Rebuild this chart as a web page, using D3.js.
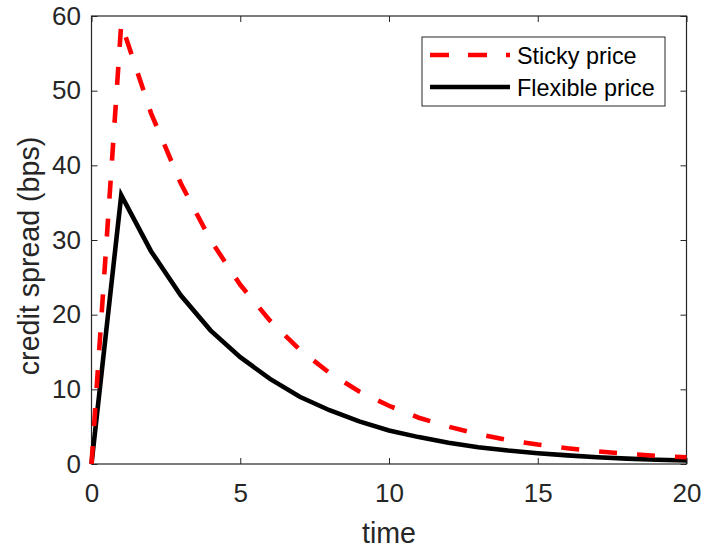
<!DOCTYPE html>
<html><head><meta charset="utf-8">
<script src="https://cdn.jsdelivr.net/npm/d3@7"></script>
<style>body{margin:0;background:#fff}svg{display:block}text{font-family:"Liberation Sans",Arial,sans-serif;fill:#262626}</style>
</head><body><svg id="c" width="703" height="548"></svg>
<script>
const time = [0,1,2,3,4,5,6,7,8,9,10,11,12,13,14,15,16,17,18,19,20];
const sticky = [0,59,47,37.6,30,24,19.2,15.3,12.2,9.7,7.8,6.2,5.0,4.0,3.2,2.6,2.1,1.7,1.35,1.1,0.9];
const flexible = [0,36,28.5,22.6,17.9,14.3,11.4,9.0,7.2,5.7,4.5,3.6,2.85,2.25,1.8,1.45,1.15,0.9,0.72,0.57,0.46];
const xTicks = [0,5,10,15,20];
const yTicks = [0,10,20,30,40,50,60];
const seriesNames = ["Sticky price","Flexible price"];

const svg = d3.select("#c");
const L=91.5, R=686.5, T=16, B=464;
const x = d3.scaleLinear().domain([0,20]).range([L,R]);
const y = d3.scaleLinear().domain([0,60]).range([B,T]);
const ax = "#262626";
const tickFont = "26px";

const gx = svg.append("g").attr("transform",`translate(0,${B})`)
  .call(d3.axisBottom(x).tickValues(xTicks).tickSize(-6).tickPadding(20));
const gxt = svg.append("g").attr("transform",`translate(0,${T})`)
  .call(d3.axisTop(x).tickValues(xTicks).tickSize(-6).tickFormat(""));
const gy = svg.append("g").attr("transform",`translate(${L},0)`)
  .call(d3.axisLeft(y).tickValues(yTicks).tickSize(-6).tickPadding(10.5));
const gyr = svg.append("g").attr("transform",`translate(${R},0)`)
  .call(d3.axisRight(y).tickValues(yTicks).tickSize(-6).tickFormat(""));
[gx,gxt,gy,gyr].forEach(g=>{
  g.selectAll("path").remove();
  g.selectAll("line").attr("stroke",ax).attr("stroke-width",1);
  g.selectAll("text").style("font-family","Liberation Sans, Arial, sans-serif").style("font-size",tickFont).attr("fill",ax);
});
svg.append("rect").attr("x",L).attr("y",T).attr("width",R-L).attr("height",B-T)
  .attr("fill","none").attr("stroke",ax).attr("stroke-width",1.2);

const line = d3.line().x((d,i)=>x(time[i])).y(d=>y(d));
svg.append("path").datum(flexible).attr("d",line).attr("fill","none")
  .attr("stroke","#000").attr("stroke-width",4.6).attr("stroke-linejoin","miter");
svg.append("path").datum(sticky).attr("d",line).attr("fill","none")
  .attr("stroke","#ff0000").attr("stroke-width",4.6).attr("stroke-dasharray","18,20");

// axis labels
svg.append("text").attr("x",(L+R)/2).attr("y",543).attr("text-anchor","middle")
  .style("font-size","28.6px").text("time");
svg.append("text").attr("transform",`translate(39,256) rotate(-90)`)
  .attr("text-anchor","middle").style("font-size","28.6px").text("credit spread (bps)");

// legend
const lg = svg.append("g");
lg.append("rect").attr("x",422).attr("y",37).attr("width",243).attr("height",69)
  .attr("fill","#fff").attr("stroke",ax).attr("stroke-width",1);
const cols=["#ff0000","#000"], dashes=["19,19",null], ly=[55,87], ty=[64.3,95.7];
seriesNames.forEach((n,i)=>{
  lg.append("line").attr("x1",430).attr("x2",510).attr("y1",ly[i]).attr("y2",ly[i])
    .attr("stroke",cols[i]).attr("stroke-width",4.6).attr("stroke-dasharray",dashes[i]);
  lg.append("text").attr("x",517).attr("y",ty[i]).style("font-size","23.4px").style("fill","#000").text(n);
});
</script></body></html>
